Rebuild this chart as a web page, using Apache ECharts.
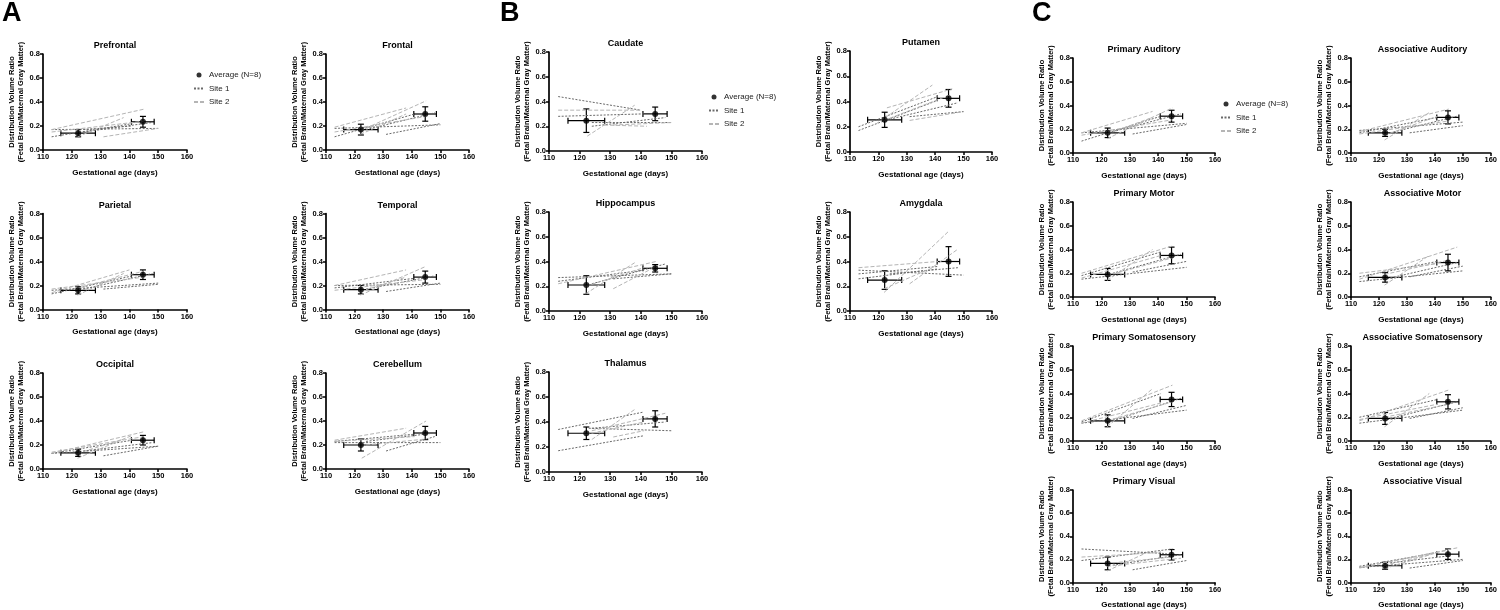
<!DOCTYPE html>
<html>
<head>
<meta charset="utf-8">
<script src="https://cdn.jsdelivr.net/npm/echarts@6/dist/echarts.min.js"></script>
<style>
html, body { margin: 0; padding: 0; background: #fff; }
#chart { width: 1500px; height: 610px; }
</style>
</head>
<body>
<div id="chart"></div>
<script>
// region names, in drawing order (panel A, B, C)
var regions = [
	'Prefrontal', 'Frontal', 'Parietal', 'Temporal', 'Occipital', 'Cerebellum',
	'Caudate', 'Putamen', 'Hippocampus', 'Amygdala', 'Thalamus',
	'Primary Auditory', 'Associative Auditory', 'Primary Motor', 'Associative Motor',
	'Primary Somatosensory', 'Associative Somatosensory', 'Primary Visual', 'Associative Visual'
]

// mean gestational age of the two scans and its spread
var avgAge = [122.2, 144.7]
var avgAgeRange = [[116.2, 128.2], [140.7, 148.6]]

// mean ratio at scan 1 / scan 2, and the error bar half widths
var avgRatio = [
	[0.14, 0.235], [0.17, 0.30], [0.16, 0.29], [0.165, 0.27], [0.135, 0.24], [0.20, 0.30],
	[0.245, 0.30], [0.255, 0.425], [0.21, 0.345], [0.25, 0.40], [0.31, 0.425],
	[0.17, 0.31], [0.17, 0.30], [0.19, 0.35], [0.165, 0.29],
	[0.17, 0.35], [0.19, 0.33], [0.165, 0.24], [0.145, 0.245]
]
var avgRatioErr = [
	[0.03, 0.045], [0.045, 0.06], [0.03, 0.04], [0.035, 0.05], [0.03, 0.04], [0.05, 0.055],
	[0.095, 0.055], [0.06, 0.07], [0.075, 0.03], [0.075, 0.12], [0.05, 0.065],
	[0.04, 0.05], [0.03, 0.055], [0.05, 0.07], [0.04, 0.07],
	[0.05, 0.06], [0.05, 0.06], [0.055, 0.045], [0.03, 0.045]
]

// per subject lines [age1, ratio1, age2, ratio2]
var site1Lines = [
	[[113, 0.11, 141, 0.22], [113, 0.17, 150, 0.18], [124, 0.15, 148, 0.23], [124, 0.17, 141, 0.20]],
	[[113, 0.11, 141, 0.30], [113, 0.18, 150, 0.21], [124, 0.17, 148, 0.31], [131, 0.13, 150, 0.22]],
	[[113, 0.13, 141, 0.28], [113, 0.16, 150, 0.22], [124, 0.17, 148, 0.30], [131, 0.17, 150, 0.21]],
	[[113, 0.18, 141, 0.26], [113, 0.20, 150, 0.21], [124, 0.17, 148, 0.28], [131, 0.15, 150, 0.22]],
	[[113, 0.13, 141, 0.24], [113, 0.13, 150, 0.19], [124, 0.15, 148, 0.22], [131, 0.11, 150, 0.19]],
	[[113, 0.23, 141, 0.29], [113, 0.22, 150, 0.22], [131, 0.15, 148, 0.27], [124, 0.23, 148, 0.30]],
	[[113, 0.44, 140, 0.33], [124, 0.20, 148, 0.27], [124, 0.23, 150, 0.23], [113, 0.28, 141, 0.30]],
	[[113, 0.20, 141, 0.44], [113, 0.17, 141, 0.41], [131, 0.28, 150, 0.32], [124, 0.26, 148, 0.39]],
	[[113, 0.24, 141, 0.33], [113, 0.27, 150, 0.30], [124, 0.22, 148, 0.38], [131, 0.26, 150, 0.30]],
	[[113, 0.33, 150, 0.29], [113, 0.30, 141, 0.36], [124, 0.30, 148, 0.35], [113, 0.26, 141, 0.34]],
	[[113, 0.17, 141, 0.29], [113, 0.34, 141, 0.48], [123, 0.35, 150, 0.33], [124, 0.35, 148, 0.40]],
	[[113, 0.10, 141, 0.31], [113, 0.17, 150, 0.25], [124, 0.18, 148, 0.33], [131, 0.16, 150, 0.24]],
	[[113, 0.17, 141, 0.30], [113, 0.19, 150, 0.26], [124, 0.17, 148, 0.31], [131, 0.17, 150, 0.23]],
	[[113, 0.15, 150, 0.25], [113, 0.18, 141, 0.38], [124, 0.20, 148, 0.36], [131, 0.21, 150, 0.30]],
	[[113, 0.13, 150, 0.22], [113, 0.17, 141, 0.30], [124, 0.16, 148, 0.29], [131, 0.17, 150, 0.26]],
	[[113, 0.15, 150, 0.26], [113, 0.16, 141, 0.40], [124, 0.17, 148, 0.36], [131, 0.19, 150, 0.30]],
	[[113, 0.15, 150, 0.26], [113, 0.20, 141, 0.35], [124, 0.19, 148, 0.33], [131, 0.19, 150, 0.28]],
	[[113, 0.29, 143, 0.25], [113, 0.19, 145, 0.29], [124, 0.15, 148, 0.24], [131, 0.11, 150, 0.19]],
	[[131, 0.125, 150, 0.19], [113, 0.13, 150, 0.20], [124, 0.17, 145, 0.23], [113, 0.14, 141, 0.26]]
]
var site2Lines = [
	[[113, 0.17, 145, 0.34], [122, 0.11, 138, 0.27], [131, 0.11, 150, 0.18], [113, 0.15, 145, 0.24]],
	[[113, 0.19, 138, 0.35], [122, 0.16, 145, 0.41], [122, 0.13, 138, 0.30], [113, 0.15, 145, 0.28]],
	[[113, 0.14, 140, 0.33], [122, 0.12, 138, 0.30], [122, 0.18, 145, 0.32], [113, 0.17, 145, 0.27]],
	[[113, 0.20, 138, 0.33], [122, 0.12, 145, 0.36], [122, 0.15, 138, 0.27], [113, 0.16, 145, 0.25]],
	[[113, 0.13, 145, 0.31], [122, 0.09, 141, 0.28], [122, 0.13, 138, 0.25], [113, 0.14, 145, 0.27]],
	[[122.5, 0.09, 145, 0.40], [113, 0.24, 138, 0.34], [113, 0.23, 141, 0.27], [124, 0.20, 145, 0.25]],
	[[113, 0.33, 140, 0.33], [122.5, 0.12, 138, 0.37], [128, 0.21, 142, 0.20], [131, 0.21, 150, 0.23]],
	[[123, 0.35, 146, 0.50], [119, 0.22, 139, 0.53], [131, 0.25, 150, 0.32], [122, 0.25, 145, 0.45]],
	[[122, 0.14, 138, 0.39], [113, 0.22, 145, 0.40], [131, 0.18, 145, 0.36], [122, 0.20, 141, 0.35]],
	[[122, 0.15, 145, 0.65], [113, 0.35, 141, 0.40], [131, 0.22, 148, 0.50], [122, 0.18, 138, 0.34]],
	[[124, 0.26, 138, 0.50], [131, 0.28, 141, 0.33], [124, 0.33, 148, 0.47], [122, 0.30, 141, 0.40]],
	[[113, 0.17, 138, 0.35], [122, 0.12, 145, 0.38], [122, 0.16, 138, 0.30], [113, 0.15, 145, 0.28]],
	[[113, 0.18, 145, 0.37], [122, 0.11, 138, 0.34], [122, 0.15, 141, 0.31], [113, 0.16, 145, 0.27]],
	[[113, 0.20, 145, 0.43], [122, 0.14, 138, 0.40], [122, 0.18, 145, 0.33], [113, 0.16, 141, 0.35]],
	[[113, 0.15, 148, 0.42], [122, 0.10, 138, 0.35], [122, 0.19, 145, 0.31], [113, 0.20, 141, 0.28]],
	[[113, 0.17, 145, 0.47], [122, 0.12, 138, 0.44], [122, 0.17, 145, 0.33], [113, 0.15, 141, 0.32]],
	[[113, 0.17, 145, 0.43], [122, 0.12, 138, 0.40], [122, 0.20, 145, 0.31], [113, 0.18, 141, 0.31]],
	[[122, 0.10, 137, 0.27], [113, 0.22, 141, 0.26], [124, 0.17, 145, 0.22], [122, 0.14, 148, 0.21]],
	[[113, 0.125, 148, 0.30], [122, 0.12, 141, 0.26], [122, 0.15, 138, 0.24], [113, 0.13, 145, 0.28]]
]

var xTicks = [110, 160, 10]
var yTicks = [0, 0.8, 0.2]

// plot boxes in px: [left, top, width, height]
var boxes = [
	[43, 54, 144, 96], [326, 54, 143, 96],
	[43, 213.5, 144, 96], [326, 213.5, 143, 96],
	[43, 373, 144, 96], [326, 373, 143, 96],
	[549, 52, 153, 99], [850, 51, 142, 101],
	[549, 212, 153, 99], [850, 212, 142, 99],
	[549, 372, 153, 100],
	[1073, 58, 142, 95], [1351, 58, 143, 95],
	[1073, 202, 142, 95], [1351, 202, 143, 95],
	[1073, 346, 142, 95], [1351, 346, 143, 95],
	[1073, 490, 142, 95], [1351, 490, 143, 95]
]

var font = '"Liberation Sans", Arial, sans-serif'
var myChart = echarts.init(document.getElementById('chart'), null, { renderer: 'canvas' })

function lineData(lines) {
	var out = []
	lines.forEach(function (l, i) {
		if (i > 0) out.push([null, null])
		out.push([l[0], l[1]])
		out.push([l[2], l[3]])
	})
	return out
}

function renderErr(params, api) {
	var x = api.value(0), y = api.value(1)
	var p = api.coord([x, y])
	var xl = api.coord([api.value(2), y])[0]
	var xr = api.coord([api.value(3), y])[0]
	var yb = api.coord([x, api.value(4)])[1]
	var yt = api.coord([x, api.value(5)])[1]
	var c = 3
	var style = { stroke: '#000', lineWidth: 1.2 }
	function seg(x1, y1, x2, y2) {
		return { type: 'line', shape: { x1: x1, y1: y1, x2: x2, y2: y2 }, style: style }
	}
	return {
		type: 'group',
		children: [
			seg(xl, p[1], xr, p[1]),
			seg(xl, p[1] - c, xl, p[1] + c),
			seg(xr, p[1] - c, xr, p[1] + c),
			seg(p[0], yb, p[0], yt),
			seg(p[0] - c, yb, p[0] + c, yb),
			seg(p[0] - c, yt, p[0] + c, yt)
		]
	}
}

var grids = [], xAxes = [], yAxes = [], series = [], texts = []
boxes.forEach(function (b, i) {
	grids.push({ left: b[0], top: b[1], width: b[2], height: b[3] })
	xAxes.push({
		gridIndex: i, type: 'value', min: xTicks[0], max: xTicks[1], interval: xTicks[2],
		axisLine: { lineStyle: { color: '#000', width: 1.7 } },
		axisTick: { length: 3, lineStyle: { color: '#000', width: 1.5 } },
		axisLabel: { fontSize: 7.5, fontWeight: 'bold', color: '#000', margin: 3, fontFamily: font },
		splitLine: { show: false },
		name: 'Gestational age (days)', nameLocation: 'middle', nameGap: 18.5,
		nameTextStyle: { fontSize: 8, fontWeight: 'bold', color: '#000', fontFamily: font }
	})
	yAxes.push({
		gridIndex: i, type: 'value', min: yTicks[0], max: yTicks[1], interval: yTicks[2],
		axisLine: { show: true, lineStyle: { color: '#000', width: 1.7 } },
		axisTick: { show: true, length: 3, lineStyle: { color: '#000', width: 1.5 } },
		axisLabel: { fontSize: 7.5, fontWeight: 'bold', color: '#000', margin: 3, fontFamily: font,
			formatter: function (v) { return v.toFixed(1) } },
		splitLine: { show: false },
		name: 'Distribution Volume Ratio\n(Fetal Brain/Maternal Gray Matter)',
		nameLocation: 'middle', nameRotate: 90, nameGap: 16,
		nameTextStyle: { fontSize: 7.5, fontWeight: 'bold', color: '#000', lineHeight: 9, fontFamily: font }
	})
	series.push({
		name: 'Site 1', type: 'line', xAxisIndex: i, yAxisIndex: i, symbol: 'none', silent: true,
		connectNulls: false, data: lineData(site1Lines[i]),
		lineStyle: { color: '#6a6a6a', width: 1, type: [2, 1.5] }, itemStyle: { color: '#6a6a6a' }
	})
	series.push({
		name: 'Site 2', type: 'line', xAxisIndex: i, yAxisIndex: i, symbol: 'none', silent: true,
		connectNulls: false, data: lineData(site2Lines[i]),
		lineStyle: { color: '#b5b5b5', width: 1, type: [4, 2] }, itemStyle: { color: '#b5b5b5' }
	})
	var errData = avgAge.map(function (a, k) {
		var y = avgRatio[i][k], e = avgRatioErr[i][k]
		return [a, y, avgAgeRange[k][0], avgAgeRange[k][1], y - e, y + e]
	})
	series.push({
		type: 'custom', xAxisIndex: i, yAxisIndex: i, renderItem: renderErr, silent: true,
		encode: { x: 0, y: 1 }, data: errData, z: 3
	})
	series.push({
		name: 'Average (N=8)', type: 'scatter', xAxisIndex: i, yAxisIndex: i, symbolSize: 6,
		itemStyle: { color: '#000' }, z: 4,
		data: avgAge.map(function (a, k) { return [a, avgRatio[i][k]] })
	})
	texts.push({
		type: 'text', x: b[0] + b[2] / 2, y: b[1] - 8,
		style: { text: regions[i], font: 'bold 9px ' + font, fill: '#000',
			textAlign: 'center', textVerticalAlign: 'middle' }
	})
})

// panel letters
;[['A', 2], ['B', 500], ['C', 1032]].forEach(function (p) {
	texts.push({
		type: 'text', x: p[1], y: 0,
		style: { text: p[0], font: 'bold 27px ' + font, fill: '#000', textAlign: 'left', textVerticalAlign: 'top' }
	})
})

function legendAt(left, top) {
	return {
		left: left, top: top, orient: 'vertical', padding: 0,
		itemWidth: 10, itemHeight: 5, itemGap: 5.5, selectedMode: false,
		textStyle: { fontSize: 8, color: '#222', fontFamily: font },
		data: [
			'Average (N=8)',
			{ name: 'Site 1', itemStyle: { opacity: 0 } },
			{ name: 'Site 2', itemStyle: { opacity: 0 } }
		]
	}
}

var option = {
	animation: false,
	backgroundColor: '#fff',
	grid: grids,
	xAxis: xAxes,
	yAxis: yAxes,
	legend: [legendAt(193, 71), legendAt(708, 93), legendAt(1220, 100)],
	graphic: texts,
	series: series
}
myChart.setOption(option)
</script>
</body>
</html>
